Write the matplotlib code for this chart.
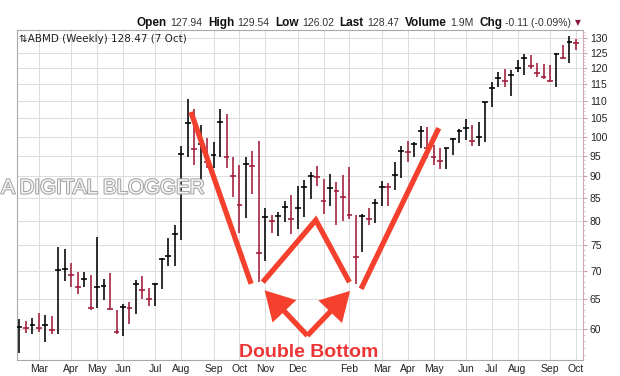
import numpy as np
import pandas as pd
import matplotlib
matplotlib.use('Agg')
import matplotlib.pyplot as plt
from matplotlib import patheffects
from matplotlib.ticker import FixedLocator, NullFormatter, FuncFormatter

# ======================
# WEEKLY BARS (ABMD)
# ======================
week_start = pd.date_range('2015-02-09', periods=87, freq='W-MON')

high = [61.6, 61.2, 61.8, 62.5, 62.2, 62.1, 74.6, 74.1, 71.4, 69.7,
        69.7, 69.2, 76.6, 68.4, 69.5, 63.0, 64.1, 64.4, 68.3, 69.0,
        66.8, 67.8, 72.5, 76.3, 79.1, 97.6, 110.5, 107.6, 103.2, 99.7,
        98.7, 107.6, 106.2, 94.8, 92.8, 94.7, 96.3, 98.9, 82.7, 81.2,
        81.9, 84.2, 85.6, 87.7, 89.1, 91.1, 92.5, 89.3, 90.6, 88.7,
        90.3, 92.2, 81.2, 81.4, 82.7, 84.8, 88.9, 88.3, 93.6, 97.6,
        98.9, 98.7, 102.9, 102.5, 97.8, 97.0, 97.0, 99.6, 102.0, 104.7,
        103.2, 104.1, 109.8, 115.7, 118.9, 119.7, 119.4, 122.6, 124.5, 124.3,
        121.6, 121.2, 121.0, 124.8, 127.6, 130.7, 129.54]

low = [56.3, 59.3, 59.2, 59.4, 57.9, 59.1, 59.1, 68.2, 67.1, 65.8,
       67.1, 63.0, 63.4, 64.8, 63.0, 59.2, 58.8, 60.7, 62.4, 64.9,
       63.8, 63.8, 66.6, 70.8, 70.8, 75.9, 94.7, 92.8, 88.4, 92.0,
       92.0, 94.8, 92.0, 85.1, 77.4, 80.6, 85.8, 68.0, 71.9, 77.4,
       76.7, 79.7, 77.2, 78.2, 80.8, 84.7, 87.7, 81.5, 83.2, 79.1,
       79.8, 80.3, 67.6, 73.5, 79.1, 79.4, 83.1, 83.2, 86.8, 89.5,
       93.6, 94.7, 97.0, 94.5, 92.8, 91.7, 91.7, 95.2, 98.3, 99.1,
       97.6, 97.6, 98.7, 108.3, 114.2, 114.2, 111.5, 118.9, 117.8, 119.7,
       117.3, 116.6, 115.6, 114.2, 123.0, 121.8, 126.02]

close = [60.3, 60.1, 60.6, 60.1, 60.6, 59.8, 70.1, 70.4, 69.2, 67.0,
         68.5, 63.4, 67.1, 67.2, 63.2, 59.4, 63.6, 63.4, 67.5, 66.5,
         64.9, 67.6, 72.2, 72.8, 77.2, 95.4, 103.6, 96.7, 98.0, 93.6,
         95.2, 103.9, 94.8, 90.1, 83.4, 93.0, 92.5, 73.3, 80.7, 79.9,
         81.0, 83.0, 80.3, 82.7, 87.4, 90.1, 89.9, 84.3, 87.2, 86.5,
         85.1, 81.2, 72.7, 81.0, 80.3, 83.8, 87.5, 87.4, 90.3, 96.3,
         96.1, 98.1, 101.6, 97.0, 94.8, 93.8, 97.0, 99.3, 101.6, 102.3,
         98.9, 100.0, 109.8, 113.8, 117.0, 116.0, 117.8, 119.9, 123.4, 120.8,
         118.4, 117.3, 116.0, 124.5, 123.2, 128.58, 128.47]

last_open = 127.94
last_volume = '1.9M'
y_ticks = [60, 65, 70, 75, 80, 85, 90, 95, 100, 105, 110, 115, 120, 125, 130]

RED_BAR = '#a01c3a'
RED_NOTE = '#f4402c'

idx = np.arange(len(close))
close_arr = np.array(close)
up = np.r_[True, close_arr[1:] >= close_arr[:-1]]
bar_colors = np.where(up, '#000000', RED_BAR)

# ======================
# FIGURE / AXES
# ======================
fig = plt.figure(figsize=(6.2, 3.76), dpi=100)
fig.patch.set_facecolor('white')
ax = fig.add_axes([16.5 / 620, 1 - 360 / 376, (583 - 16.5) / 620, (360 - 29.5) / 376])

ax.set_yscale('log')
ax.set_xlim(-0.46, 87.1)
ax.set_ylim(55.2, 133.0)

# month ticks at first week of each month (January left blank)
month_idx = [i for i in range(1, len(week_start)) if week_start[i].month != week_start[i - 1].month]
month_lbl = [week_start[i].strftime('%b') if week_start[i].month != 1 else '' for i in month_idx]
ax.set_xticks(month_idx)
ax.set_xticklabels(month_lbl)
ax.tick_params(axis='x', length=0, labelsize=7.5, labelcolor='#222222', pad=3)
for lab in ax.get_xticklabels():
    lab.set_family('Liberation Sans')

ax.yaxis.tick_right()
ax.yaxis.set_major_locator(FixedLocator(y_ticks))
ax.yaxis.set_major_formatter(FuncFormatter(lambda v, p: f'{v:g}'))
ax.yaxis.set_minor_locator(FixedLocator(np.arange(56, 133)))
ax.yaxis.set_minor_formatter(NullFormatter())
ax.tick_params(axis='y', which='major', length=3, color='#c9a3ad', labelsize=7.5,
               labelcolor='#222222', pad=2)
ax.tick_params(axis='y', which='minor', length=1.5, color='#dbbcc4')
for lab in ax.get_yticklabels():
    lab.set_family('Liberation Sans')

ax.grid(True, which='major', color='#dcdcdc', lw=0.7)
ax.set_axisbelow(True)
for side in ['left', 'top', 'bottom']:
    ax.spines[side].set_color('#a8a8a8')
    ax.spines[side].set_linewidth(0.8)
ax.spines['right'].set_color('#cfa9b3')
ax.spines['right'].set_linewidth(0.8)

# ======================
# HLC BARS
# ======================
ax.vlines(idx, low, high, colors=bar_colors, lw=1.15, zorder=3)
ax.hlines(close, idx - 0.45, idx + 0.45, colors=bar_colors, lw=1.15, zorder=3)

# ======================
# DOUBLE BOTTOM NOTES
# ======================
note = dict(color=RED_NOTE, lw=3.8, solid_capstyle='butt', solid_joinstyle='miter', zorder=5)
ax.plot([26.5, 35.8], [106.8, 67.6], **note)
ax.plot([37.6, 45.8, 51.0], [67.9, 80.1, 67.9], **note)
ax.plot([52.8, 64.8], [66.7, 102.3], **note)

for tip in [(37.6, 66.8), (51.4, 66.7)]:
    ax.annotate('', xy=tip, xytext=(44.5, 58.9),
                arrowprops=dict(arrowstyle='-|>,head_length=1.5,head_width=0.85',
                                color=RED_NOTE, lw=3.8, mutation_scale=10,
                                shrinkA=0, shrinkB=2, joinstyle='miter', capstyle='butt'),
                zorder=5)

ax.text(44.7, 56.3, 'Double Bottom', ha='center', va='center', fontsize=14,
        fontweight='bold', color='#ee3535', family='Liberation Sans', zorder=6)

# ======================
# TITLE / HEADER
# ======================
last_day = week_start[-1] + pd.Timedelta(days=4)
ax.text(0.004, 0.985, f'⇅ABMD (Weekly) {close[-1]:.2f} ({last_day.day} {last_day:%b})',
        transform=ax.transAxes, ha='left', va='top', fontsize=7.5,
        color='#222222', family=['DejaVu Sans'], zorder=6)

chg = close[-1] - close[-2]
pct = chg / close[-2] * 100
pieces = [('Open', True), (f'{last_open:.2f}', False),
          ('High', True), (f'{high[-1]:.2f}', False),
          ('Low', True), (f'{low[-1]:.2f}', False),
          ('Last', True), (f'{close[-1]:.2f}', False),
          ('Volume', True), (last_volume, False),
          ('Chg', True), (f'{chg:.2f} ({pct:.2f}%)', False)]

renderer = fig.canvas.get_renderer()
head_y = 1 - 23 / 376
texts = []
for s, bold in pieces:
    t = fig.text(0, head_y, s, ha='left', va='center', family='Liberation Sans',
                 fontsize=8.5 if bold else 7.5, fontweight='bold' if bold else 'normal',
                 color='#111111' if bold else '#333333')
    texts.append((t, bold))
tri = fig.text(0, head_y, '▼', ha='left', va='center', fontsize=5.5,
               color='#8b1a3a', family=['DejaVu Sans'])

widths = [t.get_window_extent(renderer).width for t, _ in texts]
gaps = [3 if b else 6 for _, b in texts]
tri_w = tri.get_window_extent(renderer).width
total = sum(widths) + sum(gaps[:-1]) + 4 + tri_w
x = 581 - total
for (t, b), w, g in zip(texts, widths, gaps):
    t.set_x(x / 620)
    x += w + g
tri.set_x((x - g + 4) / 620)

# ======================
# WATERMARK
# ======================
fig.text(0.002, 1 - 188 / 376, 'A DIGITAL BLOGGER', ha='left', va='center',
         fontsize=14.8, color='#f5f5f5', family='Liberation Sans', zorder=10,
         path_effects=[patheffects.withStroke(linewidth=1.5, foreground='#a3a3a3')])

fig.savefig('out.png', dpi=100)
